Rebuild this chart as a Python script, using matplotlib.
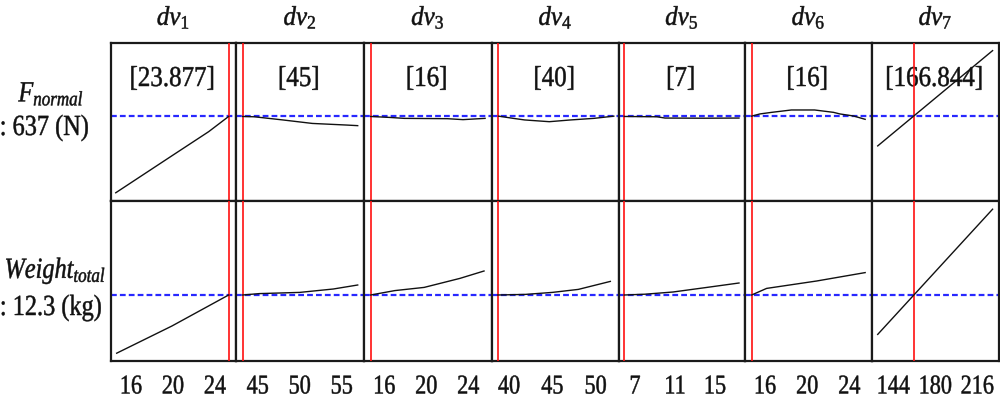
import matplotlib
matplotlib.use('Agg')
import matplotlib.pyplot as plt
from matplotlib.patheffects import AbstractPathEffect
from matplotlib.transforms import Affine2D, blended_transform_factory

plt.rcParams['font.family'] = ['Liberation Serif', 'DejaVu Serif']
plt.rcParams['mathtext.fontset'] = 'custom'
plt.rcParams['mathtext.rm'] = 'Liberation Serif'
plt.rcParams['mathtext.it'] = 'Liberation Serif:italic'
plt.rcParams['mathtext.bf'] = 'Liberation Serif:bold'

# ---------------- data ----------------
variables = [r'$dv_{\mathit{1}}$', r'$dv_{\mathit{2}}$', r'$dv_{\mathit{3}}$', r'$dv_{\mathit{4}}$',
             r'$dv_{\mathit{5}}$', r'$dv_{\mathit{6}}$', r'$dv_{\mathit{7}}$']
current_labels = ['[23.877]', '[45]', '[16]', '[40]', '[7]', '[16]', '[166.844]']
current_values = [25.3, 43.2, 14.7, 38.7, 5.93, 14.73, 162.0]
x_ranges = [(14.07, 26.03), (42.45, 57.65), (14.07, 26.26), (38.03, 52.7),
            (5.4, 18.0), (14.1, 26.15), (125.7, 234.6)]
tick_values = [[16, 20, 24], [45, 50, 55], [16, 20, 24], [40, 45, 50],
               [7, 11, 15], [16, 20, 24], [144, 180, 216]]

response_names = [r'$F_{normal}$', r'$Weight_{total}$']
response_units = [': 637 (N)', ': 12.3 (kg)']
response_targets = [637, 12.3]
y_ranges = [(370, 870), (9.0, 17.0)]

force_x = [[14.55, 20.0, 23.4, 25.3],
           [43.2, 44.6, 48.0, 51.5, 55.5, 56.9],
           [14.7, 16.5, 17.9, 22.0, 23.5, 25.6],
           [38.8, 40.5, 41.8, 44.65, 47.1, 49.8, 52.1],
           [5.93, 9.2, 10.0, 14.0, 17.4],
           [14.73, 15.52, 16.63, 18.5, 20.7, 22.5, 23.1, 24.4, 25.5],
           [130.6, 229.1]]
force_y = [[396, 515, 589, 637],
           [637, 636, 626, 615, 610, 608],
           [637, 634, 631, 630, 627, 631],
           [638, 631, 626, 620.5, 626, 631, 638],
           [637, 636, 632, 631.5, 632],
           [638, 645, 650, 657.5, 657.5, 650, 645, 638.5, 628],
           [544, 845]]

weight_x = [[14.64, 19.9, 25.3],
            [43.2, 45.2, 50.0, 54.0, 56.9],
            [14.7, 17.0, 19.8, 23.2, 25.5],
            [38.7, 41.9, 45.0, 48.0, 51.7],
            [5.93, 8.0, 10.8, 14.2, 17.4],
            [14.73, 16.15, 20.9, 25.5],
            [130.6, 229.1]]
weight_y = [[9.39, 10.75, 12.3],
            [12.3, 12.37, 12.43, 12.6, 12.8],
            [12.3, 12.52, 12.68, 13.13, 13.5],
            [12.3, 12.33, 12.43, 12.58, 12.98],
            [12.3, 12.34, 12.45, 12.68, 12.9],
            [12.3, 12.63, 13.0, 13.42],
            [10.33, 16.59]]

curves_x = [force_x, weight_x]
curves_y = [force_y, weight_y]


# ---------------- helpers ----------------
class VStretch(AbstractPathEffect):
    """Draw text glyphs stretched vertically about the baseline (slightly emboldened)."""
    def __init__(self, s, stroke=0.35):
        super().__init__()
        self.s = s
        self.stroke = stroke

    def draw_path(self, renderer, gc, tpath, affine, rgbFace=None):
        gc0 = renderer.new_gc()
        gc0.copy_properties(gc)
        gc0.set_linewidth(self.stroke)
        if rgbFace is not None:
            gc0.set_foreground(rgbFace)
        gc0.set_joinstyle('round')
        renderer.draw_path(gc0, tpath, Affine2D().scale(1, self.s) + affine, rgbFace)
        gc0.restore()


W, H = 1000, 398
fig = plt.figure(figsize=(W / 100, H / 100), dpi=100)
fig.patch.set_facecolor('white')

col_edges = [110.7, 236.3, 364, 492, 619, 745, 872, 999]
row_edges = [42.7, 201, 361]


def fy(ypix):
    return 1 - ypix / H


for r in range(2):
    for c in range(7):
        x0, x1 = col_edges[c], col_edges[c + 1]
        y0, y1 = row_edges[r], row_edges[r + 1]
        ax = fig.add_axes([x0 / W, 1 - y1 / H, (x1 - x0) / W, (y1 - y0) / H])
        ax.set_xlim(*x_ranges[c])
        ax.set_ylim(*y_ranges[r])
        ax.set_xticks([])
        ax.set_yticks([])
        for sp in ax.spines.values():
            sp.set_linewidth(1.6)
            sp.set_color('#1a1a1a')
        ax.axhline(response_targets[r], color='#2828ff', lw=1.6,
                   ls=(0, (2.6, 1.4)), zorder=2)
        ax.axvline(current_values[c], color='#ff1010', lw=1.2, zorder=3)
        ax.plot(curves_x[r][c], curves_y[r][c], color='#111111', lw=1.0, zorder=4)
        if r == 0:
            t = ax.text(0.49, (201 - 86) / (201 - 42.7), current_labels[c],
                        transform=ax.transAxes, ha='center', va='baseline',
                        fontsize=18, color='#111111', zorder=1)
            t.set_path_effects([VStretch(1.15)])
            tt = fig.text((x0 + x1) / 2 / W, fy(25), variables[c], ha='center',
                          va='baseline', fontsize=18, color='#111111')
            tt.set_path_effects([VStretch(1.08)])
        else:
            trans = blended_transform_factory(ax.transData, fig.transFigure)
            for tv in tick_values[c]:
                tl = ax.text(tv, fy(393.5), str(tv), transform=trans, ha='center',
                             va='baseline', fontsize=16, color='#111111', clip_on=False)
                tl.set_path_effects([VStretch(1.22)])

# row labels
row_name_pos = [(84, 101.5), (106, 278)]
row_unit_pos = [(89, 135), (102, 315)]
for r in range(2):
    t1 = fig.text(row_name_pos[r][0] / W, fy(row_name_pos[r][1]), response_names[r],
                  ha='right', va='baseline', fontsize=17.5, color='#111111')
    t1.set_path_effects([VStretch(1.2)])
    t2 = fig.text(row_unit_pos[r][0] / W, fy(row_unit_pos[r][1]), response_units[r],
                  ha='right', va='baseline', fontsize=17.5, color='#111111')
    t2.set_path_effects([VStretch(1.2)])

fig.savefig('out.png', dpi=100, facecolor='white')
